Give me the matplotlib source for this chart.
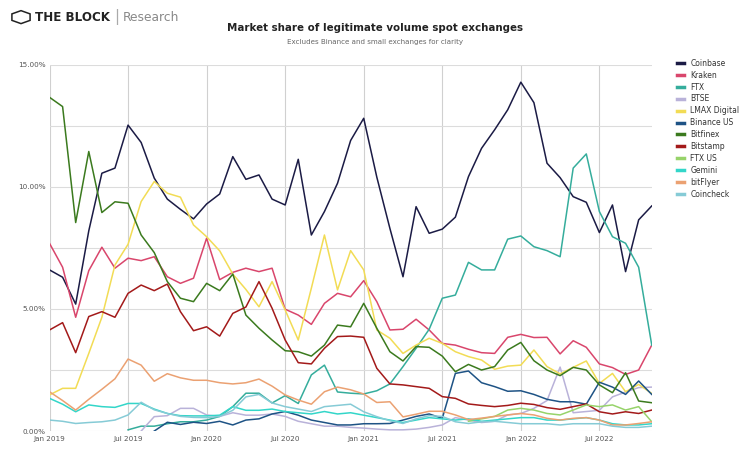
import matplotlib.pyplot as plt
import matplotlib.patches as mpatches
import numpy as np

# monthly, Jan 2019 .. Nov 2022 (market share in %)
tick_labels = ['Jan 2019', 'Jul 2019', 'Jan 2020', 'Jul 2020',
               'Jan 2021', 'Jul 2021', 'Jan 2022', 'Jul 2022']
N = None

coinbase = [6.6, 6.3, 5.2, 8.2, 10.56, 10.77, 12.53, 11.82, 10.36, 9.5,
            9.08, 8.69, 9.3, 9.71, 11.24, 10.31, 10.49, 9.5, 9.26, 11.13,
            8.03, 8.99, 10.15, 11.9, 12.81, 10.4, 8.3, 6.32, 9.19, 8.1,
            8.27, 8.76, 10.42, 11.58, 12.34, 13.16, 14.29, 13.45, 10.97, 10.38,
            9.6, 9.37, 8.13, 9.26, 6.53, 8.65, 9.22]
kraken = [7.69, 6.71, 4.66, 6.57, 7.53, 6.67, 7.08, 6.98, 7.14, 6.32,
          6.05, 6.26, 7.9, 6.2, 6.5, 6.67, 6.53, 6.67, 4.99, 4.75,
          4.37, 5.23, 5.64, 5.5, 6.16, 5.3, 4.14, 4.17, 4.58, 4.14,
          3.59, 3.52, 3.35, 3.21, 3.18, 3.84, 3.96, 3.83, 3.84, 3.16,
          3.7, 3.43, 2.75, 2.6, 2.32, 2.5, 3.52]
ftx = [N, N, N, N, N, N, 0.05, 0.2, 0.2, 0.3,
       0.38, 0.38, 0.45, 0.6, 1.0, 1.55, 1.55, 1.15, 1.45, 1.13,
       2.3, 2.7, 1.6, 1.55, 1.52, 1.65, 1.93, 2.64, 3.39, 4.17,
       5.44, 5.57, 6.91, 6.6, 6.6, 7.86, 7.99, 7.55, 7.39, 7.14,
       10.77, 11.35, 8.99, 7.96, 7.69, 6.71, 3.52]
btse = [N, N, N, N, N, N, N, 0.0, 0.59, 0.63,
        0.93, 0.93, 0.66, 0.6, 0.75, 0.65, 0.65, 0.7, 0.6, 0.4,
        0.3, 0.2, 0.2, 0.15, 0.12, 0.08, 0.05, 0.05, 0.08, 0.15,
        0.25, 0.55, 0.45, 0.35, 0.4, 0.66, 0.72, 0.93, 1.25, 2.62,
        0.75, 0.8, 0.85, 1.4, 1.6, 1.78, 1.8]
lmax = [1.48, 1.75, 1.75, 3.18, 4.66, 6.8, 7.65, 9.4, 10.22, 9.74,
        9.58, 8.44, 7.96, 7.38, 6.43, 5.8, 5.09, 6.12, 4.96, 3.73,
        5.85, 8.03, 5.78, 7.39, 6.6, 4.14, 3.8, 3.18, 3.52, 3.8,
        3.59, 3.25, 3.05, 2.91, 2.53, 2.66, 2.7, 3.32, 2.64, 2.34,
        2.61, 2.87, 1.95, 2.36, 1.61, 1.91, 1.54]
binance_us = [N, N, N, N, N, N, N, N, 0.0, 0.36,
              0.27, 0.36, 0.31, 0.4, 0.25, 0.45, 0.5, 0.7, 0.8, 0.65,
              0.45, 0.35, 0.25, 0.25, 0.3, 0.3, 0.31, 0.45, 0.6, 0.7,
              0.52, 2.36, 2.46, 1.98, 1.82, 1.63, 1.65, 1.5, 1.3, 1.2,
              1.2, 1.1, 2.0, 1.8, 1.5, 2.05, 1.5]
bitfinex = [13.67, 13.29, 8.54, 11.45, 8.95, 9.39, 9.33, 8.03, 7.31, 6.12,
            5.44, 5.3, 6.05, 5.75, 6.43, 4.75, 4.21, 3.73, 3.29, 3.25,
            3.07, 3.52, 4.34, 4.27, 5.23, 4.21, 3.25, 2.87, 3.46, 3.43,
            3.07, 2.43, 2.73, 2.5, 2.64, 3.32, 3.63, 2.88, 2.5, 2.27,
            2.61, 2.5, 1.89, 1.57, 2.39, 1.23, 1.16]
bitstamp = [4.14, 4.44, 3.21, 4.69, 4.89, 4.66, 5.64, 5.98, 5.75, 6.02,
            4.89, 4.11, 4.27, 3.89, 4.82, 5.08, 6.12, 5.03, 3.73, 2.8,
            2.75, 3.39, 3.87, 3.89, 3.84, 2.57, 1.93, 1.89, 1.82, 1.75,
            1.41, 1.34, 1.11, 1.05, 1.0, 1.05, 1.14, 1.09, 0.96, 0.89,
            1.0, 1.11, 0.79, 0.7, 0.79, 0.72, 0.86]
ftx_us = [N] * 32 + [0.4, 0.5, 0.6, 0.86, 0.93, 0.86, 0.72, 0.66,
                     0.86, 1.07, 1.0, 1.07, 0.86, 1.0, 0.38]
gemini = [1.34, 1.1, 0.79, 1.07, 1.0, 0.97, 1.13, 1.13, 0.9, 0.72,
          0.63, 0.62, 0.62, 0.65, 1.0, 0.85, 0.85, 0.9, 0.8, 0.75,
          0.7, 0.8, 0.7, 0.75, 0.65, 0.55, 0.45, 0.35, 0.45, 0.55,
          0.5, 0.45, 0.5, 0.4, 0.45, 0.5, 0.55, 0.55, 0.45, 0.45,
          0.5, 0.55, 0.45, 0.3, 0.25, 0.25, 0.3]
bitflyer = [1.61, 1.25, 0.86, 1.3, 1.71, 2.14, 2.95, 2.7, 2.04, 2.35,
            2.18, 2.08, 2.08, 1.98, 1.93, 1.98, 2.13, 1.84, 1.48, 1.27,
            1.1, 1.61, 1.8, 1.69, 1.52, 1.17, 1.2, 0.58, 0.69, 0.81,
            0.81, 0.66, 0.47, 0.53, 0.6, 0.66, 0.72, 0.66, 0.52, 0.45,
            0.52, 0.55, 0.45, 0.25, 0.25, 0.31, 0.38]
coincheck = [0.45, 0.4, 0.31, 0.35, 0.38, 0.45, 0.66, 1.18, 0.87, 0.72,
             0.6, 0.56, 0.55, 0.6, 0.85, 1.4, 1.5, 1.15, 1.0, 0.9,
             0.8, 1.0, 1.05, 1.1, 0.79, 0.59, 0.42, 0.31, 0.5, 0.63,
             0.6, 0.38, 0.31, 0.38, 0.4, 0.35, 0.3, 0.3, 0.3, 0.25,
             0.3, 0.3, 0.3, 0.2, 0.15, 0.15, 0.2]

series = [
    ('Coinbase', coinbase, '#1b1b45'),
    ('Kraken', kraken, '#d9466c'),
    ('FTX', ftx, '#35ad9c'),
    ('BTSE', btse, '#b9b2d9'),
    ('LMAX Digital', lmax, '#f2dc55'),
    ('Binance US', binance_us, '#1e5385'),
    ('Bitfinex', bitfinex, '#3b7a1e'),
    ('Bitstamp', bitstamp, '#a31a1a'),
    ('FTX US', ftx_us, '#97d36a'),
    ('Gemini', gemini, '#33d6c9'),
    ('bitFlyer', bitflyer, '#eba172'),
    ('Coincheck', coincheck, '#86cbd6'),
]

fig = plt.figure(figsize=(7.5, 4.63), dpi=100)
ax = fig.add_axes([0.066, 0.069, 0.803, 0.791])

months = np.arange(len(coinbase))
for name, vals, col in series:
    y = np.array([np.nan if v is None else v for v in vals], dtype=float)
    ax.plot(months, y, color=col, lw=1.1, label=name)

ax.set_xlim(0, len(coinbase) - 1)
ax.set_ylim(0, 15)
ax.set_xticks(np.arange(0, len(coinbase), 6))
ax.set_xticklabels(tick_labels)
ax.set_yticks([0, 5, 10, 15])
ax.set_yticklabels(['0.00%', '5.00%', '10.00%', '15.00%'])
ax.set_yticks([2.5, 7.5, 12.5], minor=True)
ax.grid(axis='y', which='both', color='#dcdcdc', lw=0.8)
ax.grid(axis='x', color='#d0d0d0', lw=0.8)
ax.set_axisbelow(True)
for s in ax.spines.values():
    s.set_visible(False)
ax.tick_params(axis='both', which='both', length=0, labelsize=5.2,
               labelcolor='#555555')
ax.tick_params(axis='x', pad=3.5)
ax.tick_params(axis='y', pad=3)

fig.legend(loc='upper left', bbox_to_anchor=(0.893, 0.888), frameon=False,
           fontsize=5.5, handlelength=0.9, handletextpad=0.9,
           labelspacing=0.38, labelcolor='#333333')
for h in fig.legends[0].get_lines():
    h.set_linewidth(2.5)

fig.text(0.5, 0.94, 'Market share of legitimate volume spot exchanges',
         ha='center', va='center', fontsize=7.4, fontweight='bold', color='#222222')
fig.text(0.5, 0.909, 'Excludes Binance and small exchanges for clarity',
         ha='center', va='center', fontsize=5.1, color='#666666')

# logo
fig.patches.append(mpatches.RegularPolygon((0.028, 0.963), 6, radius=0.014,
                                           transform=fig.transFigure, fill=False,
                                           ec='#222222', lw=1.1))
fig.text(0.047, 0.963, 'THE BLOCK', ha='left', va='center', fontsize=8.6,
         fontweight='bold', color='#222222')
fig.text(0.152, 0.963, '|', ha='left', va='center', fontsize=11, color='#aaaaaa')
fig.text(0.163, 0.963, 'Research', ha='left', va='center', fontsize=8.8,
         color='#888888')

fig.savefig('out.png', dpi=100)
